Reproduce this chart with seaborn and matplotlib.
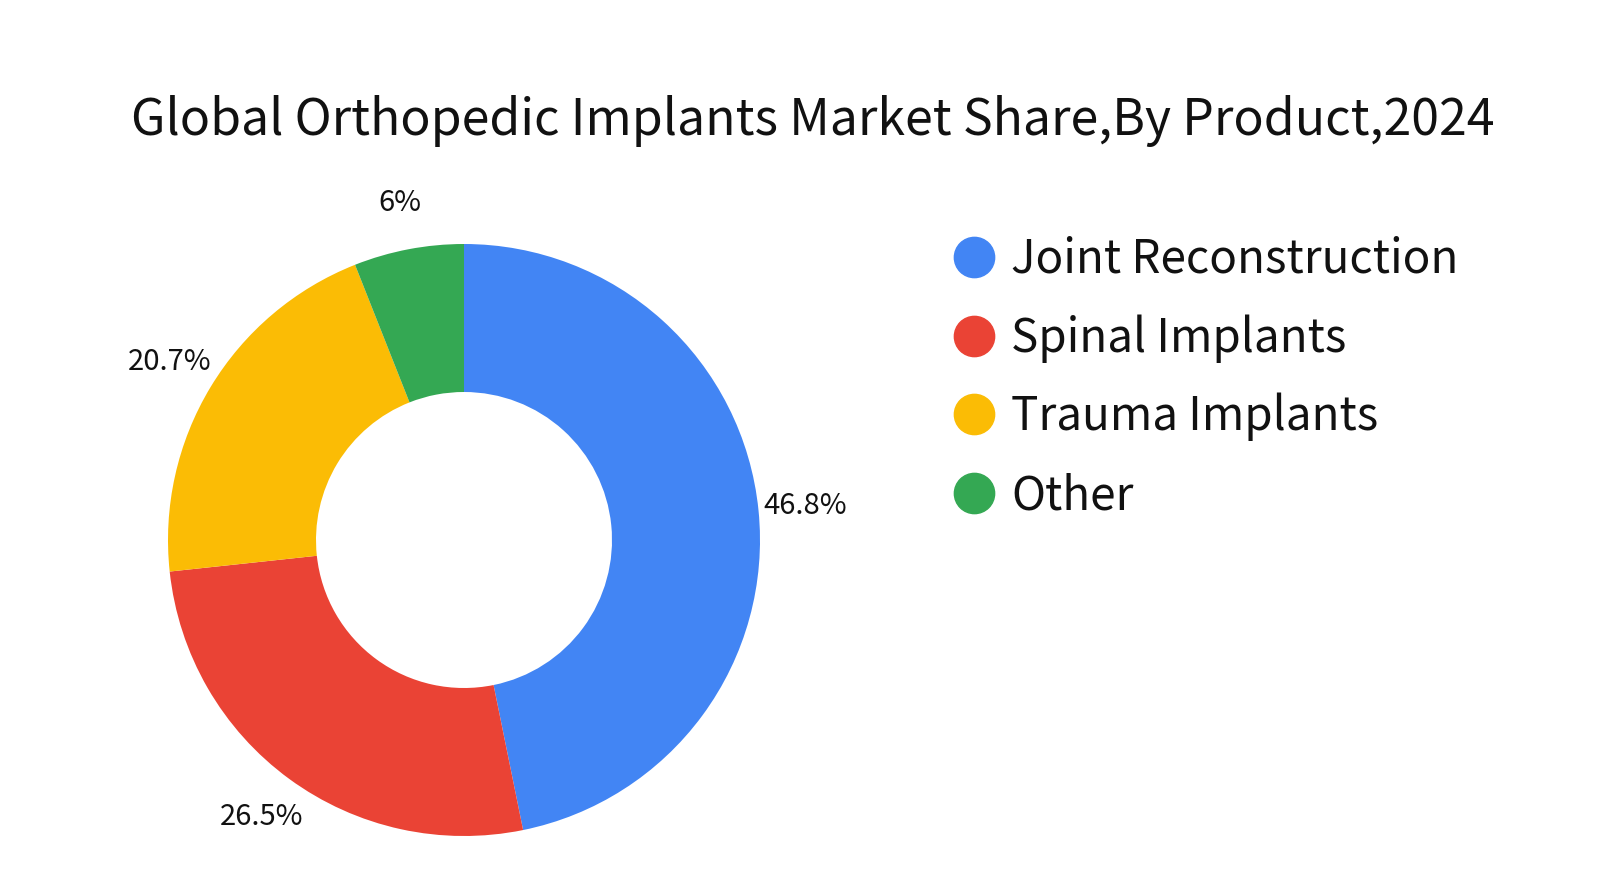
import seaborn as sns
import matplotlib.pyplot as plt
from matplotlib.lines import Line2D

products = ['Joint Reconstruction', 'Spinal Implants', 'Trauma Implants', 'Other']
shares = [46.8, 26.5, 20.7, 6.0]
share_labels = ['46.8%', '26.5%', '20.7%', '6%']
colors = ['#4285F4', '#EA4335', '#FBBC05', '#34A853']

sns.set_theme(style='white')
plt.rcParams['font.family'] = ['Noto Sans CJK SC', 'DejaVu Sans']

fig = plt.figure(figsize=(16, 8.96), dpi=100)

# donut axes: centre at (464, 540) px, outer radius 296 px
ax = fig.add_axes([(464 - 444) / 1600, (896 - 540 - 444) / 896,
                   888 / 1600, 888 / 896])
wedges, texts = ax.pie(shares, colors=colors, labels=share_labels,
                       startangle=90, counterclock=False,
                       labeldistance=1.16,
                       wedgeprops=dict(width=0.5, linewidth=0),
                       textprops=dict(fontsize=21, color='#111111',
                                      ha='center', va='center'))
ax.set_xlim(-1.5, 1.5)
ax.set_ylim(-1.5, 1.5)
ax.set_aspect('equal')
ax.axis('off')

fig.text(813 / 1600, 1 - 121 / 896,
         'Global Orthopedic Implants Market Share,By Product,2024',
         ha='center', va='center', fontsize=36, color='#111111')

handles = [Line2D([], [], marker='o', linestyle='', markersize=29,
                  markerfacecolor=c, markeredgecolor=c) for c in colors]
fig.legend(handles, products, loc='upper left',
           bbox_to_anchor=(929 / 1600, 1 - 217 / 896), frameon=False,
           fontsize=33, handletextpad=0.25, labelspacing=0.66,
           handlelength=1.15, borderaxespad=0, labelcolor='#111111')

fig.savefig('out.png', dpi=100)
